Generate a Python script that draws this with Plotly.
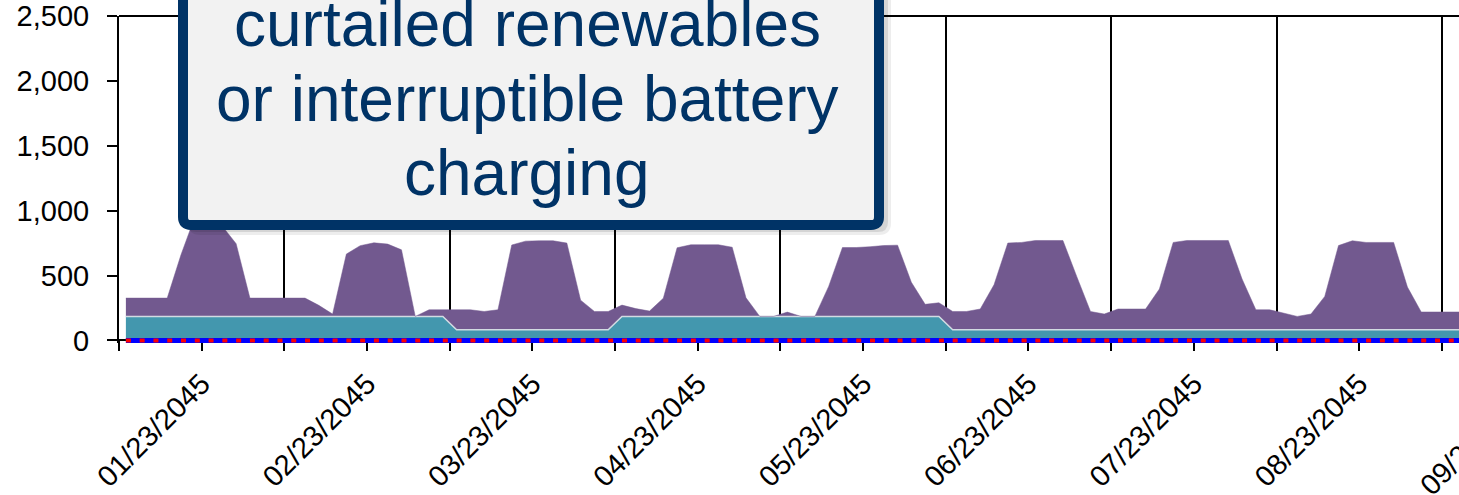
import plotly.graph_objects as go

# ---------------- data ----------------
month_labels = ["01/23/2045", "02/23/2045", "03/23/2045", "04/23/2045",
                "05/23/2045", "06/23/2045", "07/23/2045", "08/23/2045",
                "09/23/2045"]

# ~12 samples per month, index based category axis
teal = [185, 185, 185, 185, 185, 185, 185, 185, 185, 185, 185, 185,
        185, 185, 185, 185, 185, 185, 185, 185, 185, 185, 185, 185,
        82, 82, 82, 82, 82, 82, 82, 82, 82, 82, 82, 82,
        185, 185, 185, 185, 185, 185, 185, 185, 185, 185, 185, 185,
        185, 185, 185, 185, 185, 185, 185, 185, 185, 185, 185, 185,
        82, 82, 82, 82, 82, 82, 82, 82, 82, 82, 82, 82,
        82, 82, 82, 82, 82, 82, 82, 82, 82, 82, 82, 82,
        82, 82, 82, 82, 82, 82, 82, 82, 82, 82, 82, 82,
        82, 82]

purple = [141, 141, 141, 141, 475, 765, 775, 695, 560, 141, 141, 141,
          141, 141, 85, 18, 480, 545, 567, 557, 513, 0, 51, 51,
          154, 154, 141, 154, 653, 683, 686, 686, 668, 228, 141, 141,
          87, 60, 41, 140, 529, 552, 552, 552, 533, 143, 0, 0,
          33, 0, 0, 231, 531, 531, 537, 546, 549, 263, 93, 105,
          141, 141, 160, 347, 668, 673, 688, 688, 688, 411, 141, 121,
          160, 160, 160, 314, 673, 688, 688, 688, 688, 391, 154, 154,
          129, 103, 121, 257, 649, 686, 673, 673, 673, 329, 137, 137,
          137, 137]

blue_series = [0] * len(teal)
red_series = [0] * len(teal)

callout_lines = ["curtailed renewables", "or interruptible battery", "charging"]

# ---------------- figure ----------------
idx = list(range(len(teal)))
W, H = 1459, 495
ML, MR, MT, MB = 119, 0, 16, 152
PW, PH = W - ML - MR, H - MT - MB
X_MAX = -0.5 + PW / 13.78
Y_MIN, Y_MAX = -20, 2500

def px_x(p):
    return (p - ML) / PW

def px_y(p):
    return (H - MB - p) / PH

fig = go.Figure()
fig.add_trace(go.Scatter(x=idx, y=teal, stackgroup="s", mode="lines",
                         line=dict(color="#D2DBE2", width=1.5),
                         fillcolor="#4397AE", hoverinfo="skip"))
fig.add_trace(go.Scatter(x=idx, y=purple, stackgroup="s", mode="lines",
                         line=dict(color="#72598F", width=0.5),
                         fillcolor="#72598F", hoverinfo="skip"))
fig.add_trace(go.Scatter(x=idx, y=blue_series, mode="lines",
                         line=dict(color="#0000FF", width=5), hoverinfo="skip"))
fig.add_trace(go.Scatter(x=idx, y=red_series, mode="lines",
                         line=dict(color="#FF0000", width=4, dash="5px,8.78px"),
                         hoverinfo="skip"))

tick_font = dict(family="'Liberation Sans', Arial, sans-serif", size=29, color="black")

fig.update_xaxes(
    range=[-0.5, X_MAX], tickmode="array",
    tickvals=[5.5 + 12 * k for k in range(len(month_labels))],
    ticktext=month_labels, tickangle=-45,
    ticks="outside", ticklen=10, tickwidth=2, tickcolor="black",
    showgrid=False, zeroline=False,
    showline=True, linecolor="black", linewidth=2,
    anchor="free", position=(0 - Y_MIN) / (Y_MAX - Y_MIN),
    layer="below traces", tickfont=tick_font, ticklabeloverflow="allow",
    ticklabelstandoff=4,
    minor=dict(tickmode="array",
               tickvals=[-0.5 + 12 * k for k in range(len(month_labels) + 1)],
               ticks="outside", ticklen=10, tickwidth=2, tickcolor="black",
               showgrid=True, gridcolor="black", gridwidth=2),
)
fig.update_yaxes(
    range=[Y_MIN, Y_MAX], tickmode="array",
    tickvals=[0, 500, 1000, 1500, 2000, 2500],
    ticktext=["0", "500", "1,000", "1,500", "2,000", "2,500"],
    ticks="outside", ticklen=10, tickwidth=2, tickcolor="black",
    showgrid=False, zeroline=False,
    showline=True, linecolor="black", linewidth=2,
    tickfont=tick_font, ticklabeloverflow="allow", ticklabelstandoff=12,
)

# callout box (pixel geometry converted to paper coords)
def box_path(l, r, b, t, rad):
    pts = [("M", l, t), ("L", l, b - rad), ("Q", l, b, l + rad, b),
           ("L", r - rad, b), ("Q", r, b, r, b - rad), ("L", r, t)]
    s = ""
    for p in pts:
        if p[0] == "Q":
            s += f"Q{px_x(p[1])},{px_y(p[2])} {px_x(p[3])},{px_y(p[4])} "
        else:
            s += f"{p[0]}{px_x(p[1])},{px_y(p[2])} "
    return s + "Z"

shapes = [
    dict(type="line", xref="paper", yref="paper", x0=0, x1=1, y0=1, y1=1,
         line=dict(color="black", width=2), layer="above"),
    dict(type="path", xref="paper", yref="paper",
         path=box_path(188, 891, 235, -60, 12),
         fillcolor="rgba(0,0,0,0.07)", line=dict(width=0), layer="above"),
    dict(type="path", xref="paper", yref="paper",
         path=box_path(186, 888, 232, -60, 10),
         fillcolor="rgba(0,0,0,0.10)", line=dict(width=0), layer="above"),
    dict(type="path", xref="paper", yref="paper",
         path=box_path(183, 879, 225, -60, 8),
         fillcolor="#F2F2F2", line=dict(color="#003366", width=10), layer="above"),
]

ann = []
FS = 64
text_font = dict(family="'Liberation Sans', Arial, sans-serif", size=FS, color="#003366")
baselines = [46, 121, 195]
for line_txt, bl in zip(callout_lines, baselines):
    ann.append(dict(xref="paper", yref="paper", x=px_x(527), y=px_y(bl - 0.3465 * FS),
                    text=line_txt, showarrow=False, xanchor="center", yanchor="middle",
                    font=text_font))
# partially visible last month label beyond the right edge
ann.append(dict(xref="paper", yref="paper", x=px_x(1476), y=px_y(439),
                text=month_labels[-1], showarrow=False, textangle=-45,
                xanchor="center", yanchor="middle", font=tick_font))

fig.update_layout(
    width=W, height=H, margin=dict(l=ML, r=MR, t=MT, b=MB, pad=0),
    paper_bgcolor="white", plot_bgcolor="white", showlegend=False,
    shapes=shapes, annotations=ann,
)

fig.write_html("out.html", config={"displayModeBar": False},
               post_script="document.body.style.margin='0';document.body.style.overflow='hidden';")
